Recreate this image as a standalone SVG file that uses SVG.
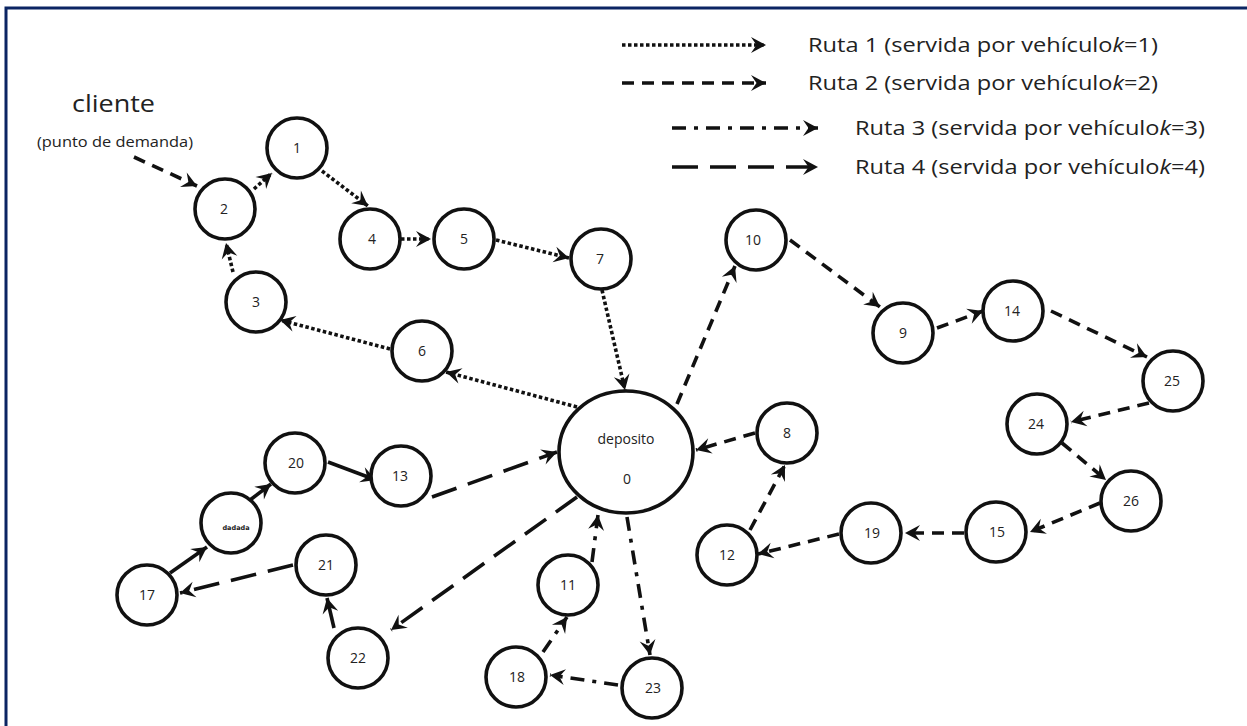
<svg xmlns="http://www.w3.org/2000/svg" width="1247" height="726" viewBox="0 0 1247 726">
  <defs>
    <marker id="head" markerUnits="userSpaceOnUse" markerWidth="20" markerHeight="20" viewBox="-16 -10 18 20" refX="0" refY="0" orient="auto">
      <path d="M0,0 L-15,-8 L-9.5,0 L-15,8 Z" fill="#111"/>
    </marker>
  </defs>
  <style>
    .frame { fill: none; stroke: #0b2563; stroke-width: 3; }
    .node { fill: #fff; stroke: #111; stroke-width: 3.6; }
    .lbl { font-family: "Open Sans", "Noto Sans", sans-serif; font-size: 14px; fill: #222; text-anchor: middle; }
    .leg { font-family: "Open Sans", "Noto Sans", sans-serif; font-size: 20px; fill: #222; }
    .c { fill: none; stroke: #111; stroke-width: 3.6; marker-end: url(#head); }
    .r1 { stroke-dasharray: 3.5 2.5; }
    .r2 { stroke-dasharray: 12 8; }
    .r3 { stroke-dasharray: 14 8 4 8; }
    .r4 { stroke-dasharray: 26 12; }
    .solid { stroke-dasharray: none; }
  </style>

  <rect x="0" y="0" width="1247" height="726" fill="#fff"/>
  <rect class="frame" x="6" y="8" width="1260" height="740"/>

  <!-- legend -->
  <g id="legend">
    <line class="c r1" x1="622" y1="45" x2="766" y2="45"/>
    <text class="leg" x="808" y="52" textLength="350" lengthAdjust="spacingAndGlyphs">Ruta 1 (servida por vehículo<tspan font-style="italic">k</tspan>=1)</text>
    <line class="c r2" x1="622" y1="83" x2="766" y2="83"/>
    <text class="leg" x="808" y="90" textLength="350" lengthAdjust="spacingAndGlyphs">Ruta 2 (servida por vehículo<tspan font-style="italic">k</tspan>=2)</text>
    <line class="c r3" x1="672" y1="128" x2="818" y2="128"/>
    <text class="leg" x="855" y="135" textLength="350" lengthAdjust="spacingAndGlyphs">Ruta 3 (servida por vehículo<tspan font-style="italic">k</tspan>=3)</text>
    <line class="c r4" x1="672" y1="167" x2="818" y2="167"/>
    <text class="leg" x="855" y="174" textLength="350" lengthAdjust="spacingAndGlyphs">Ruta 4 (servida por vehículo<tspan font-style="italic">k</tspan>=4)</text>
  </g>

  <!-- customer annotation -->
  <g id="cliente">
    <text x="72" y="112" font-family="'Open Sans', 'Noto Sans', sans-serif" font-size="24" fill="#222" textLength="83" lengthAdjust="spacingAndGlyphs">cliente</text>
    <text x="37" y="147" font-family="'Open Sans', 'Noto Sans', sans-serif" font-size="14" fill="#222" textLength="156" lengthAdjust="spacingAndGlyphs">(punto de demanda)</text>
  </g>

  <!-- connectors -->
  <g id="connectors">
    <line class="c r2" x1="134" y1="157" x2="197" y2="186"/>
    <!-- route 1 -->
    <line class="c r1" x1="577" y1="407" x2="446" y2="372"/>
    <line class="c r1" x1="390" y1="349" x2="280" y2="320"/>
    <line class="c r1" x1="233" y1="272" x2="226" y2="243"/>
    <line class="c r1" x1="254" y1="189" x2="272" y2="173"/>
    <line class="c r1" x1="322" y1="171" x2="368" y2="206"/>
    <line class="c r1" x1="401" y1="239" x2="431" y2="239"/>
    <line class="c r1" x1="496" y1="240" x2="569" y2="258"/>
    <line class="c r1" x1="602" y1="290" x2="625" y2="390"/>
    <!-- route 2 -->
    <line class="c r2" x1="677" y1="404" x2="735" y2="266"/>
    <line class="c r2" x1="790" y1="240" x2="880" y2="307"/>
    <line class="c r2" x1="937" y1="328" x2="983" y2="311"/>
    <line class="c r2" x1="1051" y1="311" x2="1147" y2="357"/>
    <line class="c r2" x1="1149" y1="403" x2="1071" y2="422"/>
    <line class="c r2" x1="1062" y1="443" x2="1106" y2="480"/>
    <line class="c r2" x1="1100" y1="503" x2="1030" y2="532"/>
    <line class="c r2" x1="964" y1="533" x2="905" y2="533"/>
    <line class="c r2" x1="839" y1="534" x2="758" y2="554"/>
    <line class="c r2" x1="750" y1="530" x2="785" y2="465"/>
    <line class="c r2" x1="755" y1="433" x2="696" y2="450"/>
    <!-- route 3 -->
    <line class="c r3" x1="627" y1="517" x2="650" y2="655"/>
    <line class="c r3" x1="618" y1="685" x2="550" y2="675"/>
    <line class="c r3" x1="543" y1="652" x2="567" y2="617"/>
    <line class="c r3" x1="592" y1="562" x2="598" y2="515"/>
    <!-- route 4 -->
    <line class="c r4" x1="432" y1="497" x2="557" y2="452"/>
    <line class="c r4" x1="577" y1="497" x2="391" y2="630"/>
    <line class="c solid" x1="334" y1="628" x2="327" y2="598"/>
    <line class="c r4" x1="293" y1="565" x2="180" y2="593"/>
    <line class="c solid" x1="170" y1="573" x2="207" y2="547"/>
    <line class="c solid" x1="250" y1="500" x2="271" y2="484"/>
    <line class="c solid" x1="328" y1="462" x2="376" y2="480"/>
  </g>

  <!-- nodes -->
  <g id="n0"><ellipse class="node" cx="626" cy="452" rx="67" ry="61"/><text class="lbl" x="626" y="444" font-size="15">deposito</text><text class="lbl" x="627" y="484">0</text></g>
  <g id="n1"><circle class="node" cx="297" cy="148" r="30"/><text class="lbl" x="297" y="153">1</text></g>
  <g id="n2"><circle class="node" cx="225" cy="209" r="30"/><text class="lbl" x="224" y="214">2</text></g>
  <g id="n3"><circle class="node" cx="256" cy="302" r="30"/><text class="lbl" x="256" y="307">3</text></g>
  <g id="n4"><circle class="node" cx="370" cy="239" r="30"/><text class="lbl" x="372" y="244">4</text></g>
  <g id="n5"><circle class="node" cx="464" cy="239" r="30"/><text class="lbl" x="464" y="244">5</text></g>
  <g id="n6"><circle class="node" cx="422" cy="351" r="30"/><text class="lbl" x="422" y="356">6</text></g>
  <g id="n7"><circle class="node" cx="601" cy="259" r="30"/><text class="lbl" x="600" y="264">7</text></g>
  <g id="n8"><circle class="node" cx="787" cy="433" r="30"/><text class="lbl" x="787" y="438">8</text></g>
  <g id="n9"><circle class="node" cx="903" cy="333" r="30"/><text class="lbl" x="903" y="338">9</text></g>
  <g id="n10"><circle class="node" cx="756" cy="240" r="30"/><text class="lbl" x="753" y="245">10</text></g>
  <g id="n11"><circle class="node" cx="568" cy="585" r="30"/><text class="lbl" x="568" y="590">11</text></g>
  <g id="n12"><circle class="node" cx="727" cy="555" r="30"/><text class="lbl" x="727" y="560">12</text></g>
  <g id="n13"><circle class="node" cx="401" cy="476" r="30"/><text class="lbl" x="400" y="481">13</text></g>
  <g id="n14"><circle class="node" cx="1013" cy="311" r="30"/><text class="lbl" x="1012" y="316">14</text></g>
  <g id="n15"><circle class="node" cx="996" cy="532" r="30"/><text class="lbl" x="997" y="537">15</text></g>
  <g id="n16"><circle class="node" cx="231" cy="523" r="30"/><text x="236" y="530" font-family="'DejaVu Sans', sans-serif" font-size="6.5" font-weight="bold" fill="#222" text-anchor="middle">dadada</text></g>
  <g id="n17"><circle class="node" cx="147" cy="595" r="30"/><text class="lbl" x="147" y="600">17</text></g>
  <g id="n18"><circle class="node" cx="516" cy="677" r="30"/><text class="lbl" x="517" y="682">18</text></g>
  <g id="n19"><circle class="node" cx="871" cy="533" r="30"/><text class="lbl" x="872" y="538">19</text></g>
  <g id="n20"><circle class="node" cx="295" cy="463" r="30"/><text class="lbl" x="296" y="468">20</text></g>
  <g id="n21"><circle class="node" cx="326" cy="565" r="30"/><text class="lbl" x="326" y="570">21</text></g>
  <g id="n22"><circle class="node" cx="358" cy="658" r="30"/><text class="lbl" x="358" y="663">22</text></g>
  <g id="n23"><circle class="node" cx="652" cy="688" r="30"/><text class="lbl" x="653" y="693">23</text></g>
  <g id="n24"><circle class="node" cx="1037" cy="424" r="30"/><text class="lbl" x="1036" y="429">24</text></g>
  <g id="n25"><circle class="node" cx="1173" cy="381" r="30"/><text class="lbl" x="1172" y="386">25</text></g>
  <g id="n26"><circle class="node" cx="1131" cy="501" r="30"/><text class="lbl" x="1131" y="506">26</text></g>
</svg>
